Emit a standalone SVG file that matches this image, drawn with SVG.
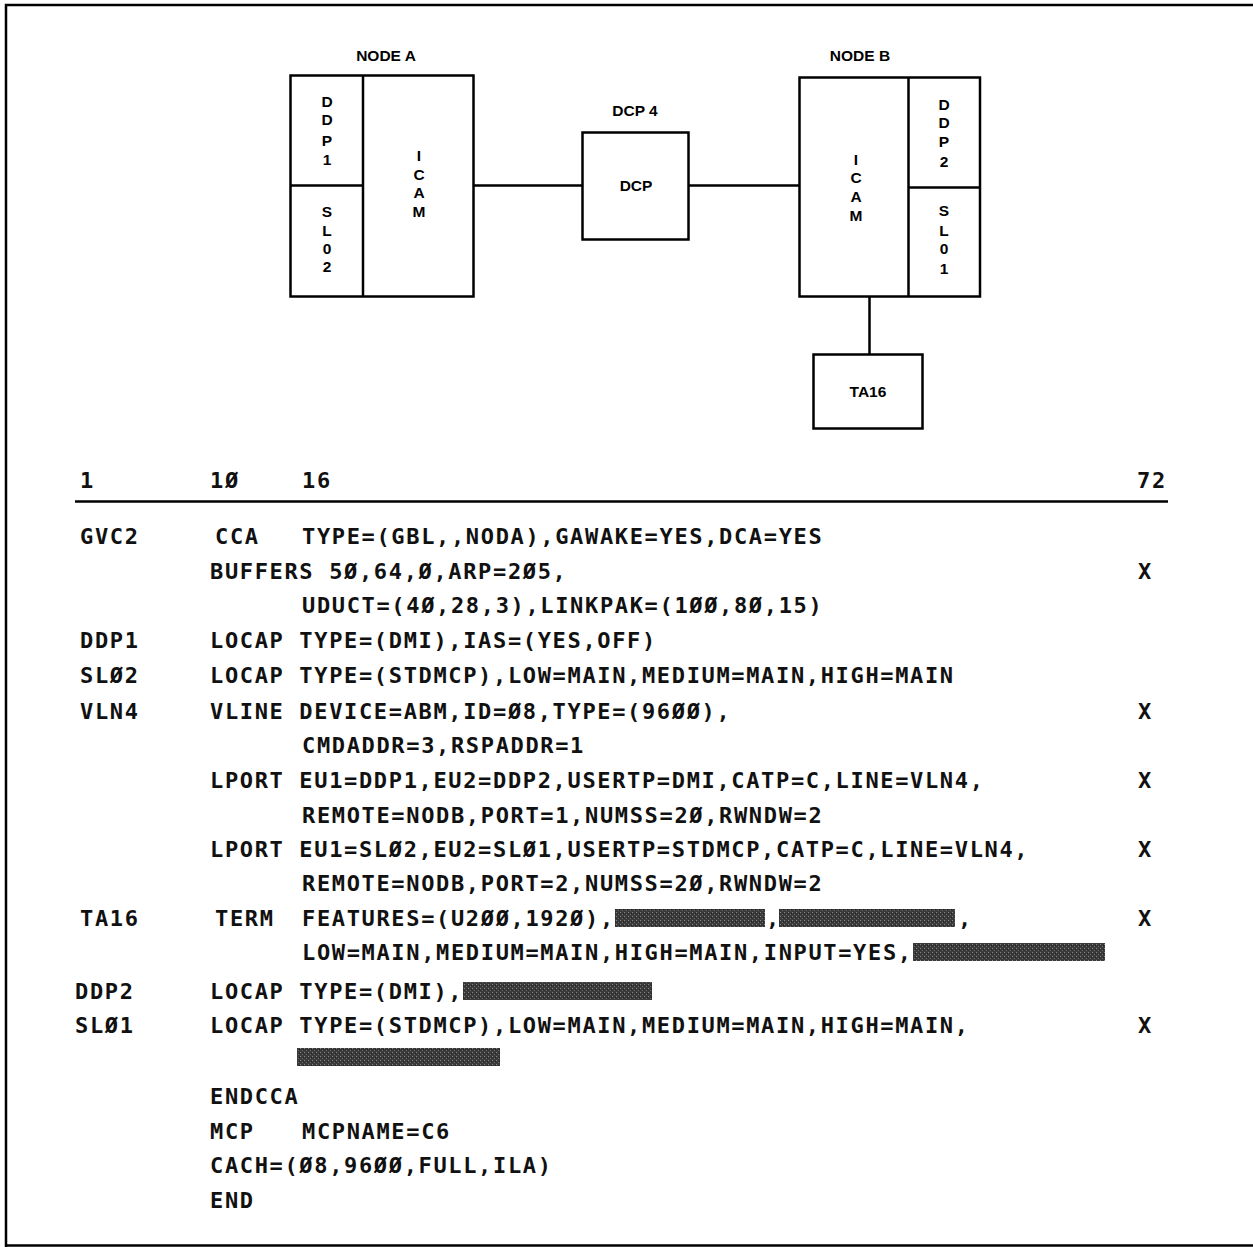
<svg xmlns="http://www.w3.org/2000/svg" width="1253" height="1247" viewBox="0 0 1253 1247">
<style>
.box{fill:#fff;stroke:#000;stroke-width:2.5}
.ln{stroke:#000;stroke-width:2.5;fill:none}
.lbl{font-family:"Liberation Sans",Arial,sans-serif;font-weight:bold;font-size:15.5px;fill:#000;text-anchor:middle}
.code{font-family:"DejaVu Sans Mono","Liberation Mono",monospace;font-weight:bold;font-size:22px;letter-spacing:1.65px;fill:#111}
.red{fill:url(#tex)}
</style>
<defs>
<pattern id="tex" width="4" height="4" patternUnits="userSpaceOnUse">
<rect width="4" height="4" fill="#3a3a3a"/>
<rect x="0" y="0" width="1" height="1" fill="#8a8a8a"/>
<rect x="2" y="2" width="1" height="1" fill="#6a6a6a"/>
<rect x="3" y="1" width="1" height="1" fill="#222"/>
</pattern>
</defs>
<rect width="1253" height="1247" fill="#fff"/>
<g id="frame">
<path class="ln" d="M6,1247 V5 H1253" stroke-width="3"/>
<path class="ln" d="M6,1245.5 H1253" stroke-width="2"/>
</g>
<g id="connectors">
<line class="ln" x1="474" y1="185.5" x2="582" y2="185.5"/>
<line class="ln" x1="689" y1="185.5" x2="799" y2="185.5"/>
<line class="ln" x1="869.5" y1="297" x2="869.5" y2="354"/>
</g>
<g id="nodeA">
<text class="lbl" x="386" y="61">NODE A</text>
<rect class="box" x="290.5" y="75.5" width="183" height="221"/>
<line class="ln" x1="363" y1="75.5" x2="363" y2="296.5"/>
<line class="ln" x1="290.5" y1="185.5" x2="363" y2="185.5"/>
<g id="ddp1"><text class="lbl" x="327" y="107">D</text><text class="lbl" x="327" y="125">D</text><text class="lbl" x="327" y="146">P</text><text class="lbl" x="327" y="165">1</text></g>
<g id="sl02"><text class="lbl" x="327" y="217">S</text><text class="lbl" x="327" y="236">L</text><text class="lbl" x="327" y="254">0</text><text class="lbl" x="327" y="272">2</text></g>
<g id="icamA"><text class="lbl" x="419" y="161">I</text><text class="lbl" x="419" y="180">C</text><text class="lbl" x="419" y="198">A</text><text class="lbl" x="419" y="217">M</text></g>
</g>
<g id="dcp4">
<text class="lbl" x="635" y="116">DCP 4</text>
<rect class="box" x="582.5" y="132.5" width="106" height="107"/>
<text class="lbl" x="636" y="191">DCP</text>
</g>
<g id="nodeB">
<text class="lbl" x="860" y="61">NODE B</text>
<rect class="box" x="799.5" y="77.5" width="180.5" height="219"/>
<line class="ln" x1="908.5" y1="77.5" x2="908.5" y2="296.5"/>
<line class="ln" x1="908.5" y1="187.5" x2="980" y2="187.5"/>
<g id="icamB"><text class="lbl" x="856" y="165">I</text><text class="lbl" x="856" y="183">C</text><text class="lbl" x="856" y="202">A</text><text class="lbl" x="856" y="221">M</text></g>
<g id="ddp2"><text class="lbl" x="944" y="110">D</text><text class="lbl" x="944" y="128">D</text><text class="lbl" x="944" y="147">P</text><text class="lbl" x="944" y="167">2</text></g>
<g id="sl01"><text class="lbl" x="944" y="216">S</text><text class="lbl" x="944" y="236">L</text><text class="lbl" x="944" y="254">0</text><text class="lbl" x="944" y="274">1</text></g>
</g>
<g id="ta16">
<rect class="box" x="813.5" y="354.5" width="109" height="74"/>
<text class="lbl" x="868" y="397">TA16</text>
</g>
<g id="listing">
<text class="code" x="80" y="488">1</text><text class="code" x="210" y="488">1Ø</text><text class="code" x="302" y="488">16</text><text class="code" x="1137" y="488">72</text>
<line class="ln" x1="75" y1="501.5" x2="1168" y2="501.5" stroke-width="2"/>
<text class="code" x="80" y="544">GVC2</text><text class="code" x="215" y="544">CCA</text><text class="code" x="302" y="544">TYPE=(GBL,,NODA),GAWAKE=YES,DCA=YES</text>
<text class="code" x="210" y="579">BUFFERS 5Ø,64,Ø,ARP=2Ø5,</text><text class="code" x="1138" y="579">X</text>
<text class="code" x="302" y="613">UDUCT=(4Ø,28,3),LINKPAK=(1ØØ,8Ø,15)</text>
<text class="code" x="80" y="648">DDP1</text><text class="code" x="210" y="648">LOCAP TYPE=(DMI),IAS=(YES,OFF)</text>
<text class="code" x="80" y="683">SLØ2</text><text class="code" x="210" y="683">LOCAP TYPE=(STDMCP),LOW=MAIN,MEDIUM=MAIN,HIGH=MAIN</text>
<text class="code" x="80" y="719">VLN4</text><text class="code" x="210" y="719">VLINE DEVICE=ABM,ID=Ø8,TYPE=(96ØØ),</text><text class="code" x="1138" y="719">X</text>
<text class="code" x="302" y="753">CMDADDR=3,RSPADDR=1</text>
<text class="code" x="210" y="788">LPORT EU1=DDP1,EU2=DDP2,USERTP=DMI,CATP=C,LINE=VLN4,</text><text class="code" x="1138" y="788">X</text>
<text class="code" x="302" y="823">REMOTE=NODB,PORT=1,NUMSS=2Ø,RWNDW=2</text>
<text class="code" x="210" y="857">LPORT EU1=SLØ2,EU2=SLØ1,USERTP=STDMCP,CATP=C,LINE=VLN4,</text><text class="code" x="1138" y="857">X</text>
<text class="code" x="302" y="891">REMOTE=NODB,PORT=2,NUMSS=2Ø,RWNDW=2</text>
<text class="code" x="80" y="926">TA16</text><text class="code" x="215" y="926">TERM</text><text class="code" x="302" y="926">FEATURES=(U2ØØ,192Ø),</text>
<rect class="red" x="615" y="909" width="150" height="18"/><text class="code" x="766" y="926">,</text>
<rect class="red" x="779" y="909" width="176" height="18"/><text class="code" x="958" y="926">,</text><text class="code" x="1138" y="926">X</text>
<text class="code" x="302" y="960">LOW=MAIN,MEDIUM=MAIN,HIGH=MAIN,INPUT=YES,</text>
<rect class="red" x="913" y="943" width="192" height="18"/>
<text class="code" x="75" y="999">DDP2</text><text class="code" x="210" y="999">LOCAP TYPE=(DMI),</text>
<rect class="red" x="463" y="982" width="189" height="18"/>
<text class="code" x="75" y="1033">SLØ1</text><text class="code" x="210" y="1033">LOCAP TYPE=(STDMCP),LOW=MAIN,MEDIUM=MAIN,HIGH=MAIN,</text><text class="code" x="1138" y="1033">X</text>
<rect class="red" x="297" y="1048" width="203" height="18"/>
<text class="code" x="210" y="1104">ENDCCA</text>
<text class="code" x="210" y="1139">MCP</text><text class="code" x="302" y="1139">MCPNAME=C6</text>
<text class="code" x="210" y="1173">CACH=(Ø8,96ØØ,FULL,ILA)</text>
<text class="code" x="210" y="1208">END</text>
</g>
</svg>
